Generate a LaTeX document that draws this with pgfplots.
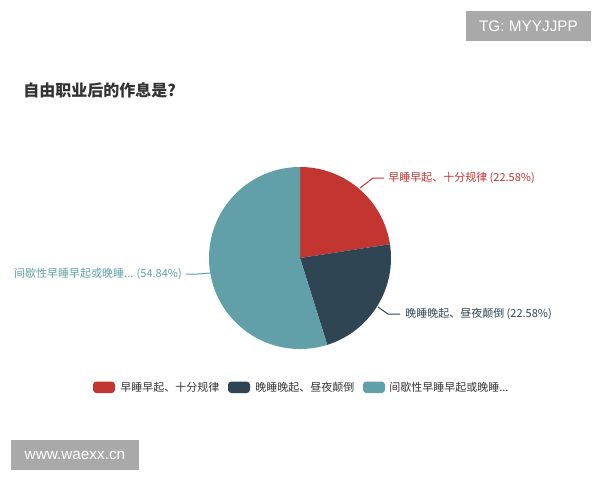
\documentclass[border=0pt]{standalone}
\usepackage{pgfplots}
\pgfplotsset{compat=1.18}
\usepackage{pgfplotstable}
\usepackage{fontspec}
\setmainfont{Noto Sans CJK SC}
\newfontfamily\wmfont{Liberation Sans}

\definecolor{cRed}{HTML}{C23531}
\definecolor{cDark}{HTML}{2F4554}
\definecolor{cTeal}{HTML}{61A0A8}
\definecolor{cTitle}{HTML}{333333}
\definecolor{cLeg}{HTML}{333333}
\definecolor{cWm}{HTML}{A9A9A9}

% share of answers, in %
\pgfplotstableread{
name pct
a 22.58
b 22.58
c 54.84
}\piedata

\begin{document}
\begin{tikzpicture}
\begin{axis}[
  width=450pt, height=360pt, scale only axis,
  xmin=0, xmax=600, ymin=0, ymax=480, y dir=reverse,
  hide axis, clip=false,
]
\path (axis cs:0,0) rectangle (axis cs:600,480);

\pgfplotstablegetelem{0}{pct}\of\piedata \let\pA\pgfplotsretval
\pgfplotstablegetelem{1}{pct}\of\piedata \let\pB\pgfplotsretval
\pgfplotstablegetelem{2}{pct}\of\piedata \let\pC\pgfplotsretval
\pgfmathsetmacro\aZero{90}
\pgfmathsetmacro\aOne{90-3.6*\pA}
\pgfmathsetmacro\aTwo{\aOne-3.6*\pB}
\pgfmathsetmacro\aThree{\aTwo-3.6*\pC}

\addplot[fill=cRed, draw=none, domain=\aOne:\aZero, samples=80]
  ({300+91*cos(x)},{258-91*sin(x)}) -- (axis cs:300,258) -- cycle;
\addplot[fill=cDark, draw=none, domain=\aTwo:\aOne, samples=80]
  ({300+91*cos(x)},{258-91*sin(x)}) -- (axis cs:300,258) -- cycle;
\addplot[fill=cTeal, draw=none, domain=\aThree:\aTwo, samples=160]
  ({300+91*cos(x)},{258-91*sin(x)}) -- (axis cs:300,258) -- cycle;

% label lines
\draw[cRed, line width=0.75pt] (axis cs:360,188) -- (axis cs:373,178) -- (axis cs:384,178);
\draw[cDark, line width=0.75pt] (axis cs:378,307) -- (axis cs:388,314) -- (axis cs:400,314);
\draw[cTeal, line width=0.75pt] (axis cs:210,273) -- (axis cs:198,274) -- (axis cs:186,274);

\node[anchor=west, inner sep=0pt, text=cRed, font=\fontsize{8.25}{10}\selectfont] at (axis cs:388,178) {早睡早起、十分规律 (22.58\%)};
\node[anchor=west, inner sep=0pt, text=cDark, font=\fontsize{8.25}{10}\selectfont] at (axis cs:405,314) {晚睡晚起、昼夜颠倒 (22.58\%)};
\node[anchor=east, inner sep=0pt, text=cTeal, font=\fontsize{8.25}{10}\selectfont] at (axis cs:182,274) {间歇性早睡早起或晚睡... (54.84\%)};

% title
\node[anchor=west, inner sep=0pt, text=cTitle, font=\fontsize{12}{14}\selectfont\bfseries] at (axis cs:23,90) {自由职业后的作息是?};

% legend
\fill[cRed, rounded corners=2.5pt] (axis cs:93,381.5) rectangle (axis cs:115,393);
\node[anchor=west, inner sep=0pt, text=cLeg, font=\fontsize{8.25}{10}\selectfont] at (axis cs:120,387) {早睡早起、十分规律};
\fill[cDark, rounded corners=2.5pt] (axis cs:228,381.5) rectangle (axis cs:250,393);
\node[anchor=west, inner sep=0pt, text=cLeg, font=\fontsize{8.25}{10}\selectfont] at (axis cs:255,387) {晚睡晚起、昼夜颠倒};
\fill[cTeal, rounded corners=2.5pt] (axis cs:363,381.5) rectangle (axis cs:385,393);
\node[anchor=west, inner sep=0pt, text=cLeg, font=\fontsize{8.25}{10}\selectfont] at (axis cs:389,387) {间歇性早睡早起或晚睡...};

% watermarks
\fill[cWm] (axis cs:466,11) rectangle (axis cs:591,41);
\node[text=white, inner sep=0pt, font=\wmfont\fontsize{11.5}{13}\selectfont] at (axis cs:528.5,26) {TG: MYYJJPP};
\fill[cWm] (axis cs:11,440) rectangle (axis cs:139,470);
\node[text=white, inner sep=0pt, font=\wmfont\fontsize{11.5}{13}\selectfont] at (axis cs:75,455) {www.waexx.cn};
\end{axis}
\end{tikzpicture}
\end{document}
